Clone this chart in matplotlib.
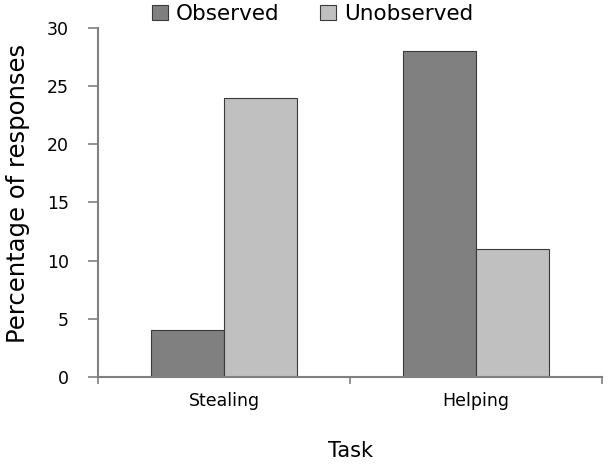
import numpy as np
import matplotlib.pyplot as plt

# Datos del gráfico
tareas = ['Stealing', 'Helping']
observado = [4, 28]
no_observado = [24, 11]
series = ['Observed', 'Unobserved']
colores = ['#808080', '#c0c0c0']

fig = plt.figure(figsize=(6.09, 4.67), dpi=100)
ax = fig.add_axes([0.161, 0.193, 0.828, 0.747])

x = np.arange(len(tareas))
ancho = 0.29
ax.bar(x - ancho / 2, observado, ancho, color=colores[0], edgecolor='#3a3a3a',
       linewidth=0.8, label=series[0])
ax.bar(x + ancho / 2, no_observado, ancho, color=colores[1], edgecolor='#3a3a3a',
       linewidth=0.8, label=series[1])

ax.set_xlim(-0.5, 1.5)
ax.set_ylim(0, 30)
ax.set_yticks(range(0, 31, 5))
ax.set_xticks([-0.5, 0.5, 1.5])
ax.set_xticklabels([])
ax.set_xticks(x, minor=True)
ax.set_xticklabels(tareas, minor=True, fontsize=12.5)
ax.tick_params(axis='x', which='minor', length=0, pad=11)
ax.tick_params(axis='x', which='major', length=5, color='#808080', width=1.2)
ax.tick_params(axis='y', length=7, color='#808080', width=1.2, labelsize=12.5, pad=14)

for lado in ['top', 'right']:
    ax.spines[lado].set_visible(False)
for lado in ['left', 'bottom']:
    ax.spines[lado].set_color('#808080')
    ax.spines[lado].set_linewidth(1.5)

ax.set_xlabel('Task', fontsize=15, labelpad=22)
ax.set_ylabel('Percentage of responses', fontsize=17.5)
ax.yaxis.set_label_coords(-0.135, 0.525)

fig.legend(loc='center', bbox_to_anchor=(0.513, 0.97), ncol=2, frameon=False,
           fontsize=15.5, handlelength=0.75, handleheight=0.75, columnspacing=1.9,
           handletextpad=0.35)

plt.savefig('out.png', dpi=100)
